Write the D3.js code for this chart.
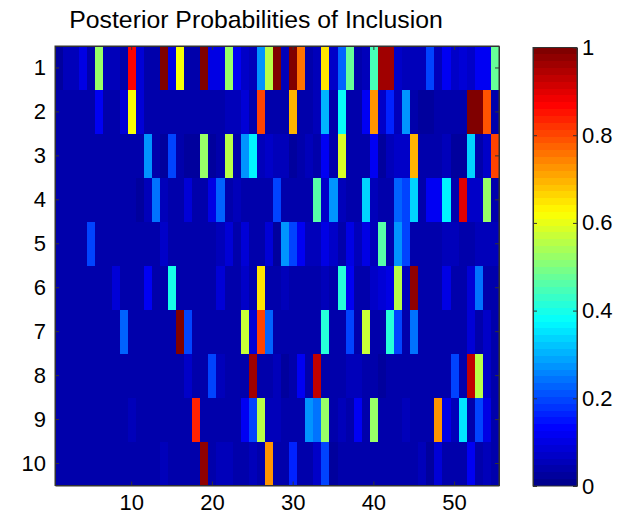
<!DOCTYPE html>
<html>
<head>
<meta charset="utf-8">
<script src="https://cdn.jsdelivr.net/npm/d3@7"></script>
<style>
  html, body { margin: 0; padding: 0; background: #fff; }
  text { font-family: "Liberation Sans", Arial, sans-serif; fill: #000; }
  .axis path, .axis line { stroke: #333; stroke-width: 1; }
</style>
</head>
<body>
<div id="chart"></div>
<script>
const rowLabels = d3.range(1, 11);
const colLabels = d3.range(1, 56);
const xTickValues = [10, 20, 30, 40, 50];
const colorbarTicks = [0, 0.2, 0.4, 0.6, 0.8, 1];
const chartTitle = "Posterior Probabilities of Inclusion";

const row1 = [.02,.05,.05,.1,.04,.53,.05,.05,.04,.86,.09,.04,.04,1,.1,.61,.04,.04,1,.1,.1,.53,.11,.07,.06,.28,.56,1,.05,1,.75,.04,.05,.655,.07,.22,.47,.04,.06,.44,.96,.96,.07,.06,.05,.05,.19,.05,.11,.07,.09,.07,.11,.11,.47];
const row2 = [.035,.035,.035,.04,.04,.11,.035,.035,.09,.61,.08,.04,.04,.04,.04,.04,.04,.04,.04,.04,.04,.05,.05,.08,.04,.8,.04,.035,.04,.69,.04,.04,.05,.3,.04,.375,.04,.04,.12,.73,.07,.17,.05,.27,.035,.02,.02,.035,.04,.04,.04,1,1,.79,.035];
const row3 = [.035,.035,.035,.04,.035,.035,.04,.04,.035,.04,.04,.27,.04,.02,.19,.04,.02,.02,.53,.02,.04,.56,.04,.28,.36,.05,.07,.05,.05,.02,.04,.05,.04,.11,.04,.58,.035,.04,.04,.11,.02,.05,.07,.07,.69,.04,.04,.035,.06,.02,.02,.34,.04,.07,.8];
const row4 = [.035,.035,.04,.035,.035,.035,.035,.035,.035,.035,.02,.05,.235,.05,.04,.04,.08,.04,.035,.1,.22,.04,.05,.04,.04,.04,.04,.19,.04,.04,.04,.04,.455,.07,.28,.05,.04,.04,.34,.05,.04,.04,.22,.19,.33,.04,.11,.11,.37,.04,.9,.07,.07,.52,.035];
const row5 = [.035,.035,.035,.035,.2,.035,.035,.035,.035,.04,.035,.04,.04,.07,.035,.04,.04,.035,.04,.04,.05,.09,.04,.08,.04,.04,.08,.02,.27,.2,.11,.06,.06,.1,.07,.04,.1,.05,.1,.05,.455,.035,.27,.2,.04,.035,.035,.035,.05,.05,.04,.04,.06,.06,.06];
const row6 = [.035,.035,.035,.04,.035,.035,.04,.08,.04,.035,.035,.12,.035,.035,.4,.035,.035,.04,.04,.04,.09,.04,.04,.07,.04,.655,.04,.04,.06,.04,.04,.04,.04,.05,.04,.42,.11,.04,.04,.07,.08,.1,.56,.05,.98,.04,.04,.04,.1,.04,.04,.08,.235,.04,.04];
const row7 = [.035,.035,.035,.035,.035,.035,.035,.035,.22,.035,.035,.035,.035,.04,.04,1,.2,.04,.04,.035,.035,.035,.035,.57,.09,.8,.22,.04,.04,.035,.04,.035,.035,.42,.035,.035,.2,.04,.57,.04,.04,.42,.19,.04,.235,.04,.035,.035,.035,.04,.04,.08,.04,.07,.04];
const row8 = [.035,.035,.035,.04,.035,.04,.035,.04,.04,.035,.035,.035,.035,.04,.04,.04,.07,.04,.035,.2,.05,.04,.04,.04,.96,.04,.04,.06,.02,.04,.11,.04,.925,.04,.035,.04,.05,.05,.035,.035,.02,.035,.035,.035,.04,.035,.035,.04,.04,.2,.04,.925,.55,.07,.04];
const row9 = [.035,.035,.035,.035,.035,.035,.035,.04,.04,.05,.035,.04,.035,.035,.035,.035,.04,.83,.04,.04,.04,.04,.04,.12,.19,.56,.05,.05,.04,.04,.04,.28,.235,.53,.035,.05,.035,.11,.04,.52,.04,.04,.04,.05,.04,.035,.04,.72,.1,.05,.35,.04,.19,.1,.04];
const row10 = [.035,.035,.04,.035,.04,.035,.035,.035,.04,.04,.035,.035,.035,.05,.035,.035,.035,.04,.98,.035,.05,.05,.04,.04,.06,.04,.725,.04,.04,.17,.04,.04,.07,.19,.02,.035,.035,.035,.035,.035,.04,.035,.04,.04,.04,.06,.02,.09,.04,.04,.04,.11,.04,.05,.04];
const matrix = [row1, row2, row3, row4, row5, row6, row7, row8, row9, row10];

const width = 633, height = 517;
const plot = { left: 55, right: 499, top: 46, bottom: 485.5 };
const bar = { left: 533, right: 577, top: 47.5, bottom: 486 };

// matlab jet, 64 levels
const jetLevels = 64;
const jet = d3.scaleLinear()
  .domain([0, 0.125, 0.375, 0.625, 0.875, 1])
  .range(["#00008f", "#0000ff", "#00ffff", "#ffff00", "#ff0000", "#800000"])
  .clamp(true);
const color = v => jet(Math.min(jetLevels - 1, Math.floor(v * jetLevels)) / (jetLevels - 1));

const svg = d3.select("#chart").append("svg")
  .attr("width", width)
  .attr("height", height)
  .style("display", "block");

const x = d3.scaleBand().domain(colLabels).range([plot.left, plot.right]);
const y = d3.scaleBand().domain(rowLabels).range([plot.top, plot.bottom]);

// heatmap cells
svg.append("g")
  .attr("shape-rendering", "crispEdges")
  .selectAll("g")
  .data(matrix)
  .join("g")
  .attr("transform", (d, i) => `translate(0,${y(rowLabels[i])})`)
  .selectAll("rect")
  .data(d => d)
  .join("rect")
  .attr("x", (d, i) => x(colLabels[i]))
  .attr("width", x.bandwidth())
  .attr("height", y.bandwidth())
  .attr("fill", d => color(d));

const tickLen = 4;

// axes, ticks point inward on all four sides
const styleAxis = (g, size) => {
  g.classed("axis", true);
  g.selectAll("text").style("font-size", size);
};

svg.append("g")
  .attr("transform", `translate(0,${plot.bottom})`)
  .call(d3.axisBottom(x).tickValues(xTickValues).tickSizeInner(-tickLen).tickSizeOuter(0).tickPadding(9))
  .call(styleAxis, "22px");
svg.append("g")
  .attr("transform", `translate(0,${plot.top})`)
  .call(d3.axisTop(x).tickValues(xTickValues).tickSizeInner(-tickLen).tickSizeOuter(0).tickFormat(""))
  .call(styleAxis, "22px");
svg.append("g")
  .attr("transform", `translate(${plot.left},0)`)
  .call(d3.axisLeft(y).tickSizeInner(-tickLen).tickSizeOuter(0).tickPadding(9))
  .call(styleAxis, "22px");
svg.append("g")
  .attr("transform", `translate(${plot.right},0)`)
  .call(d3.axisRight(y).tickSizeInner(-tickLen).tickSizeOuter(0).tickFormat(""))
  .call(styleAxis, "22px");

// colorbar
const barScale = d3.scaleLinear().domain([0, 1]).range([bar.bottom, bar.top]);
svg.append("g")
  .attr("shape-rendering", "crispEdges")
  .selectAll("rect")
  .data(d3.range(jetLevels))
  .join("rect")
  .attr("x", bar.left)
  .attr("width", bar.right - bar.left)
  .attr("y", d => barScale((d + 1) / jetLevels))
  .attr("height", d => barScale(d / jetLevels) - barScale((d + 1) / jetLevels))
  .attr("fill", d => color((d + 0.5) / jetLevels));

svg.append("g")
  .attr("transform", `translate(${bar.right},0)`)
  .call(d3.axisRight(barScale).tickValues(colorbarTicks).tickFormat(d3.format("~g")).tickSizeInner(-tickLen).tickSizeOuter(0).tickPadding(5))
  .call(styleAxis, "22px");
svg.append("g")
  .attr("transform", `translate(${bar.left},0)`)
  .call(d3.axisLeft(barScale).tickValues(colorbarTicks).tickSizeInner(-tickLen).tickSizeOuter(0).tickFormat(""))
  .call(styleAxis, "22px");
svg.append("rect")
  .attr("x", bar.left)
  .attr("y", bar.top)
  .attr("width", bar.right - bar.left)
  .attr("height", bar.bottom - bar.top)
  .attr("fill", "none")
  .attr("stroke", "#333");

// plot frame
svg.append("rect")
  .attr("x", plot.left)
  .attr("y", plot.top)
  .attr("width", plot.right - plot.left)
  .attr("height", plot.bottom - plot.top)
  .attr("fill", "none")
  .attr("stroke", "#333");

svg.append("text")
  .attr("x", 256)
  .attr("y", 28)
  .attr("text-anchor", "middle")
  .style("font-size", "24.8px")
  .text(chartTitle);
</script>
</body>
</html>
